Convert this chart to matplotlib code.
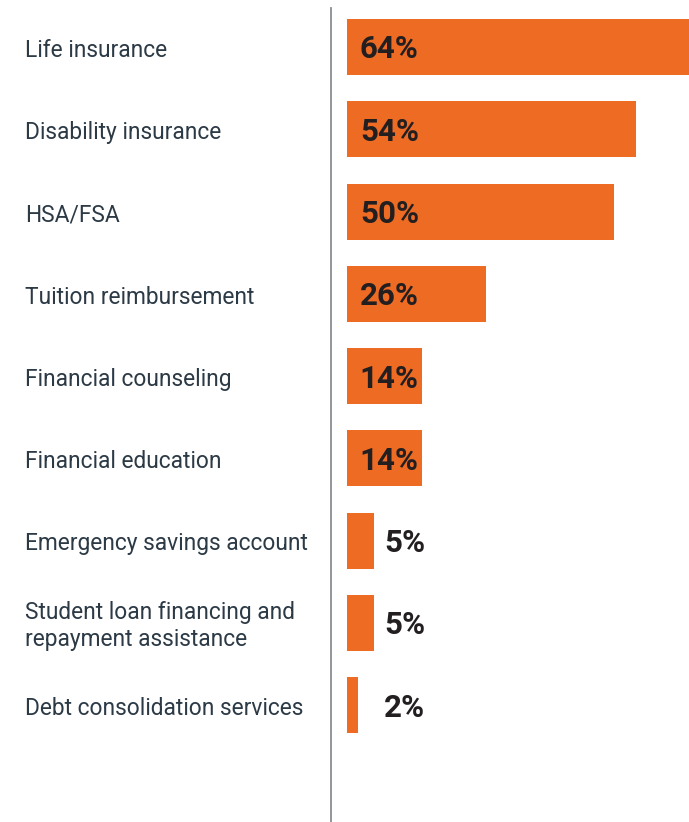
import matplotlib.pyplot as plt
import matplotlib.transforms as mtransforms

categories = ["Life insurance", "Disability insurance", "HSA/FSA",
              "Tuition reimbursement", "Financial counseling",
              "Financial education", "Emergency savings account",
              "Student loan financing and\nrepayment assistance",
              "Debt consolidation services"]
values = [64, 54, 50, 26, 14, 14, 5, 5, 2]
value_labels = ["64%", "54%", "50%", "26%", "14%", "14%", "5%", "5%", "2%"]

ORANGE = "#EE6B24"
LABEL_COLOR = "#2C3A46"
PCT_COLOR = "#231F20"

plt.rcParams['font.family'] = ['Roboto', 'DejaVu Sans']

fig = plt.figure(figsize=(6.89, 8.22), dpi=100)
W, H = 689, 822
ax = fig.add_axes([331 / W, 0, (689 - 331) / W, (822 - 8) / H])

pos = list(range(len(values)))
ax.barh(pos, values, height=0.68, color=ORANGE, left=0)
ax.set_xlim(-3.0, 64)
ax.set_ylim(9.42, -0.474)

for spine in ["top", "right", "bottom"]:
    ax.spines[spine].set_visible(False)
ax.spines["left"].set_color("#8a8d91")
ax.spines["left"].set_linewidth(1.3)
ax.set_xticks([])
ax.set_yticks([])

for p, v, lab in zip(pos, values, value_labels):
    x = 2.4 if v >= 10 else 6.9
    ax.text(x, p + 0.03, lab, va="center", ha="left", fontsize=22.5,
            fontweight="bold", color=PCT_COLOR)

trans = mtransforms.blended_transform_factory(fig.transFigure, ax.transData)
for p, cat in zip(pos, categories):
    ax.text(25 / W, p + 0.04, cat, transform=trans, va="center", ha="left",
            fontsize=16.4, color=LABEL_COLOR, linespacing=1.25)

fig.savefig("out.png", dpi=100)
